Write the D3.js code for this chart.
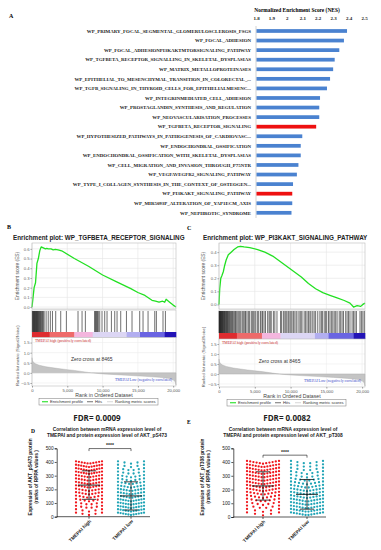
<!DOCTYPE html>
<html>
<head>
<meta charset="utf-8">
<script src="https://cdn.jsdelivr.net/npm/d3@7"></script>
<style>
  body { margin: 0; background: #fff; }
  svg { display: block; }
</style>
</head>
<body>
<svg width="381" height="550"></svg>
<script>
// ---------- Panel A : NES bar chart ----------
const nesLabels = [
  'WP_PRIMARY_FOCAL_SEGMENTAL_GLOMERULOSCLEROSIS_FSGS',
  'WP_FOCAL_ADHESION',
  'WP_FOCAL_ADHESIONPI3KAKTMTORSIGNALING_PATHWAY',
  'WP_TGFBETA_RECEPTOR_SIGNALLING_IN_SKELETAL_DYSPLASIAS',
  'WP_MATRIX_METALLOPROTEINASES',
  'WP_EPITHELIAL_TO_MESENCHYMAL_TRANSITION_IN_COLORECTAL_...',
  'WP_TGFB_SIGNALING_IN_THYROID_CELLS_FOR_EPITHELIALMESENC...',
  'WP_INTEGRINMEDIATED_CELL_ADHESION',
  'WP_PROSTAGLANDIN_SYNTHESIS_AND_REGULATION',
  'WP_NEOVASCULARISATION_PROCESSES',
  'WP_TGFBETA_RECEPTOR_SIGNALING',
  'WP_HYPOTHESIZED_PATHWAYS_IN_PATHOGENESIS_OF_CARDIOVASC...',
  'WP_ENDOCHONDRAL_OSSIFICATION',
  'WP_ENDOCHONDRAL_OSSIFICATION_WITH_SKELETAL_DYSPLASIAS',
  'WP_CELL_MIGRATION_AND_INVASION_THROUGH_P75NTR',
  'WP_VEGFAVEGFR2_SIGNALING_PATHWAY',
  'WP_TYPE_I_COLLAGEN_SYNTHESIS_IN_THE_CONTEXT_OF_OSTEOGEN...',
  'WP_PI3KAKT_SIGNALING_PATHWAY',
  'WP_MIR5093P_ALTERATION_OF_YAP1ECM_AXIS',
  'WP_NEPHROTIC_SYNDROME'
];
const nesValues = [2.39, 2.37, 2.34, 2.31, 2.30, 2.28, 2.26, 2.215, 2.21, 2.21,
                   2.19, 2.10, 2.09, 2.09, 2.075, 2.065, 2.04, 2.035, 2.035, 2.03];
const nesHighlighted = ['WP_TGFBETA_RECEPTOR_SIGNALING', 'WP_PI3KAKT_SIGNALING_PATHWAY'];
const nesTicks = [1.8, 1.9, 2, 2.1, 2.2, 2.3, 2.4, 2.5];

// ---------- Panels B / C : GSEA enrichment plots ----------
const datasetSize = 20400;
const rankTicks = [0, 5000, 10000, 15000, 20000];

const esRanksB = [0, 150, 300, 500, 700, 900, 1100, 1300, 1600, 1900, 2100, 2300, 2700, 3000, 3300, 3700,
                  4200, 6000, 8000, 10000, 12000, 14000, 15000, 16000, 17000, 17500, 18000, 18500, 18800,
                  19000, 19500, 20000, 20400];
const esValuesB = [0, 0.1, 0.2, 0.25, 0.45, 0.5, 0.58, 0.62, 0.61, 0.6, 0.605, 0.6, 0.6, 0.59, 0.595, 0.59,
                   0.58, 0.5, 0.42, 0.33, 0.26, 0.19, 0.15, 0.12, 0.07, 0.06, 0.05, 0.06, 0.05,
                   0.08, 0.05, 0.02, 0.0];
const hitsB = [60, 130, 200, 260, 330, 390, 450, 520, 590, 650, 720, 790, 860, 940, 1020, 1100, 1190,
               1280, 1380, 1480, 1600, 1720, 2000, 2300, 2600, 2900, 3360, 4070, 4870, 6520, 7090, 7560,
               8880, 8950, 9050, 9150, 9280, 9400, 9590, 9920, 10300, 10630, 11250, 11720, 12050, 12570,
               13380, 14170, 15260, 15730, 16440, 17390, 17620, 18560, 18900];

const esRanksC = [0, 100, 250, 400, 600, 800, 1000, 1300, 1700, 2100, 2600, 3000, 3500, 4300, 5400, 6400,
                  7500, 8500, 9500, 10500, 11500, 12500, 13500, 14500, 15500, 16500, 17500, 18300, 18800,
                  19300, 19800, 20100, 20400];
const esValuesC = [0, 0.12, 0.2, 0.22, 0.25, 0.3, 0.34, 0.38, 0.4, 0.42, 0.44, 0.445, 0.44, 0.435, 0.42, 0.4,
                   0.37, 0.33, 0.29, 0.25, 0.21, 0.16, 0.12, 0.09, 0.07, 0.05, 0.03, 0.01, -0.02,
                   -0.01, -0.015, 0.0, 0.01];
const hitsC = [20, 60, 110, 150, 200, 260, 310, 370, 420, 480, 540, 600, 670, 740, 800, 870, 950, 1030,
               1100, 1180, 1260, 1350, 1450, 1550, 1650, 1760, 1880, 2000, 2150, 2300, 2400, 2550, 2750,
               2900, 3050, 3250, 3400, 3600, 3700, 3900, 4100, 4250, 4500, 4650, 4800, 5000, 5150, 5400,
               5550, 5800, 6000, 6100, 6300, 6500, 6800, 7000, 7150, 7300, 7600, 7800, 8100, 8600, 8750,
               9000, 9200, 9350, 9500, 9700, 9900, 10050, 10200, 10400, 10600, 10800, 11050, 11300,
               11450, 11600, 11900, 12100, 12300, 12500, 12700, 12850, 13100, 13300, 13500, 13800,
               14100, 14300, 14450, 14700, 14900, 15050, 15300, 15500, 15700, 15900, 16100, 16300,
               16500, 16800, 17000, 17200, 17400, 17700, 17900, 18100, 18300, 18600, 18800, 19000,
               19200, 19700, 19900, 20100, 20300];

// ranked list metric (signal2noise), same dataset for both plots
const metricRanks = [0, 50, 200, 500, 1000, 2000, 3000, 4000, 5000, 6000, 7000, 8000, 8465, 9000, 10000,
                     12000, 14000, 16000, 18000, 19500, 20000, 20300, 20400];
const metricValues = [0.75, 0.62, 0.52, 0.45, 0.38, 0.3, 0.25, 0.2, 0.16, 0.12, 0.07, 0.02, 0, -0.02, -0.05,
                      -0.09, -0.13, -0.17, -0.22, -0.28, -0.34, -0.45, -0.6];
const metricTicks = [1.5, 1.0, 0.5, 0.0, -0.5];

const colorBarStarts = [0, 2500, 6000, 8600, 13400, 15300, 18800];
const colorBarFills = ['#de2b2f', '#ee6a6a', '#f4b6de', '#dcd6f4', '#b2aef0', '#6a64e2', '#2313b6'];

// ---------- Panels D / E : scatter dot plots ----------
const groups = ['TMEPAI high', 'TMEPAI low'];
const rppaBins = [12.5, 37.5, 62.5, 87.5, 112.5, 137.5, 162.5, 187.5, 212.5, 237.5, 262.5, 287.5,
                  312.5, 337.5, 362.5, 387.5];
const rppaTicks = [0, 100, 200, 300, 400, 500];
const dHighCounts = [5, 5, 6, 6, 7, 8, 9, 9, 10, 10, 10, 10, 11, 11, 11, 10];
const dLowCounts = [11, 11, 11, 11, 11, 10, 10, 10, 9, 8, 7, 7, 6, 6, 5, 5];
const eHighCounts = [5, 5, 6, 7, 8, 9, 10, 11, 11, 12, 12, 12, 12, 12, 12, 11];
const eLowCounts = [12, 12, 12, 12, 12, 11, 11, 11, 10, 9, 8, 7, 7, 6, 6, 6];
const dMeans = [231, 152];
const dSDs = [104, 103];
const eMeans = [226, 165];
const eSDs = [103, 108];

const svg = d3.select('svg');
const serif = 'Liberation Serif, Times New Roman, serif';
const sans = 'Liberation Sans, Arial, sans-serif';

// ================= Panel A =================
svg.append('text').attr('x', 9).attr('y', 18)
  .style('font-family', serif).style('font-weight', 'bold').style('font-size', '6px').text('A');

const xNes = d3.scaleLinear().domain([1.8, 2.5]).range([256, 364]);
const yNes = d3.scaleBand().domain(nesLabels).range([26.2, 217.6]).paddingInner(0.61).paddingOuter(0.305);

const gA = svg.append('g');
gA.append('text')
  .attr('x', 297).attr('y', 12)
  .attr('text-anchor', 'middle')
  .style('font-family', serif).style('font-weight', 'bold').style('font-size', '5.4px')
  .text('Normalized Enrichment Score (NES)');

const axA = gA.append('g')
  .attr('transform', 'translate(0,23)')
  .call(d3.axisTop(xNes).tickValues(nesTicks).tickSize(0).tickFormat(d3.format('~g')));
axA.select('.domain').remove();
axA.selectAll('text')
  .style('font-family', serif).style('font-weight', 'bold').style('font-size', '5px').attr('fill', '#222');

gA.append('line')
  .attr('x1', xNes(1.8)).attr('x2', xNes(1.8))
  .attr('y1', 26).attr('y2', 218)
  .attr('stroke', '#c8c8c8').attr('stroke-width', 0.8);

gA.selectAll('.bar-nes')
  .data(nesLabels)
  .enter().append('rect')
  .attr('class', 'bar-nes')
  .attr('x', xNes(1.8) + 0.5)
  .attr('y', d => yNes(d))
  .attr('width', (d, i) => xNes(nesValues[i]) - xNes(1.8) - 0.5)
  .attr('height', yNes.bandwidth())
  .attr('fill', d => nesHighlighted.includes(d) ? '#ee1010' : '#4a82d0');

gA.selectAll('.lbl-nes')
  .data(nesLabels)
  .enter().append('text')
  .attr('class', 'lbl-nes')
  .attr('x', 251)
  .attr('y', d => yNes(d) + yNes.bandwidth() / 2 + 1.7)
  .attr('text-anchor', 'end')
  .style('font-family', serif).style('font-weight', 'bold').style('font-size', '4.9px')
  .attr('fill', '#222')
  .text(d => d);

// ================= Panels B / C =================
function drawGsea(cfg) {
  const g = svg.append('g');
  const x = d3.scaleLinear().domain([0, datasetSize]).range([cfg.x0, cfg.x1]);
  const yEs = d3.scaleLinear().domain(cfg.esDomain).range([cfg.esBottom, cfg.esTop]);
  const yRk = d3.scaleLinear().domain([-0.65, 1.75]).range([cfg.rankBottom, cfg.barBottom]);
  const midX = (cfg.x0 + cfg.x1) / 2;

  // panel letter + title
  g.append('text').attr('x', cfg.letterX).attr('y', cfg.letterY)
    .style('font-family', serif).style('font-weight', 'bold').style('font-size', '6px').text(cfg.letter);
  g.append('text').attr('x', cfg.titleX).attr('y', 240)
    .style('font-family', sans).style('font-weight', 'bold').style('font-size', '6.3px')
    .attr('fill', '#222')
    .text(cfg.title);

  // ES panel
  g.append('rect').attr('x', cfg.x0).attr('y', cfg.esTop)
    .attr('width', cfg.x1 - cfg.x0).attr('height', cfg.esBottom - cfg.esTop)
    .attr('fill', '#fff');
  g.selectAll('.vgrid').data(rankTicks).enter().append('line')
    .attr('x1', d => x(d)).attr('x2', d => x(d))
    .attr('y1', cfg.esTop).attr('y2', cfg.esBottom)
    .attr('stroke', '#e4e4e4').attr('stroke-width', 0.6);
  g.selectAll('.hgrid').data(cfg.esTicks).enter().append('line')
    .attr('x1', cfg.x0).attr('x2', cfg.x1)
    .attr('y1', d => yEs(d)).attr('y2', d => yEs(d))
    .attr('stroke', '#e4e4e4').attr('stroke-width', 0.6);

  const esAx = g.append('g').attr('transform', `translate(${cfg.x0},0)`)
    .call(d3.axisLeft(yEs).tickValues(cfg.esTicks).tickSize(1.5).tickFormat(d3.format('.1f')));
  esAx.select('.domain').remove();
  esAx.selectAll('line').attr('stroke', '#999');
  esAx.selectAll('text').attr('x', -2.5).style('font-family', sans).style('font-size', '4.2px').attr('fill', '#666');

  const esLine = d3.line().x(d => x(d[0])).y(d => yEs(d[1]));
  g.append('path')
    .datum(cfg.esRanks.map((r, i) => [r, cfg.esValues[i]]))
    .attr('d', esLine)
    .attr('fill', 'none').attr('stroke', '#22e022').attr('stroke-width', 1.3)
    .attr('stroke-linejoin', 'round');

  g.append('rect').attr('x', cfg.x0).attr('y', cfg.esTop)
    .attr('width', cfg.x1 - cfg.x0).attr('height', cfg.esBottom - cfg.esTop)
    .attr('fill', 'none').attr('stroke', '#bbb').attr('stroke-width', 0.6);

  // hits panel
  g.append('rect').attr('x', cfg.x0).attr('y', cfg.esBottom + 1)
    .attr('width', cfg.x1 - cfg.x0).attr('height', cfg.barBottom - cfg.esBottom - 1)
    .attr('fill', '#fff').attr('stroke', '#bbb').attr('stroke-width', 0.6);
  g.selectAll('.hit').data(cfg.hits).enter().append('line')
    .attr('x1', d => x(d)).attr('x2', d => x(d))
    .attr('y1', cfg.esBottom + 2).attr('y2', cfg.hitsBottom)
    .attr('stroke', '#111').attr('stroke-width', 0.6);

  // color bar
  g.selectAll('.cbar').data(colorBarStarts).enter().append('rect')
    .attr('x', d => x(d))
    .attr('y', cfg.hitsBottom)
    .attr('width', (d, i) => x(i < colorBarStarts.length - 1 ? colorBarStarts[i + 1] : datasetSize) - x(d) + 0.3)
    .attr('height', cfg.barBottom - cfg.hitsBottom)
    .attr('fill', (d, i) => colorBarFills[i]);

  // ranked list metric panel
  g.append('rect').attr('x', cfg.x0).attr('y', cfg.barBottom)
    .attr('width', cfg.x1 - cfg.x0).attr('height', cfg.rankBottom - cfg.barBottom)
    .attr('fill', '#fff');
  g.selectAll('.vgrid2').data(rankTicks).enter().append('line')
    .attr('x1', d => x(d)).attr('x2', d => x(d))
    .attr('y1', cfg.barBottom).attr('y2', cfg.rankBottom)
    .attr('stroke', '#ececec').attr('stroke-width', 0.6);
  g.selectAll('.hgrid2').data(metricTicks).enter().append('line')
    .attr('x1', cfg.x0).attr('x2', cfg.x1)
    .attr('y1', d => yRk(d)).attr('y2', d => yRk(d))
    .attr('stroke', '#ececec').attr('stroke-width', 0.6);

  const area = d3.area().x(d => x(d[0])).y0(yRk(0)).y1(d => yRk(d[1]));
  g.append('path')
    .datum(metricRanks.map((r, i) => [r, metricValues[i]]))
    .attr('d', area)
    .attr('fill', '#c4c4c4').attr('stroke', '#aaa').attr('stroke-width', 0.4);

  const rkAx = g.append('g').attr('transform', `translate(${cfg.x0},0)`)
    .call(d3.axisLeft(yRk).tickValues(metricTicks).tickSize(1.5).tickFormat(d3.format('.1f')));
  rkAx.select('.domain').remove();
  rkAx.selectAll('line').attr('stroke', '#999');
  rkAx.selectAll('text').attr('x', -2.5).style('font-family', sans).style('font-size', '4.2px').attr('fill', '#666');

  g.append('rect').attr('x', cfg.x0).attr('y', cfg.barBottom)
    .attr('width', cfg.x1 - cfg.x0).attr('height', cfg.rankBottom - cfg.barBottom)
    .attr('fill', 'none').attr('stroke', '#bbb').attr('stroke-width', 0.6);

  g.append('text').attr('x', cfg.x0 + 3).attr('y', cfg.barBottom + 4.5)
    .style('font-family', serif).style('font-size', '3.8px').attr('fill', '#c62828')
    .text('TMEPAI high (positively correlated)');
  g.append('text').attr('x', x(8465)).attr('y', cfg.barBottom + 23.5)
    .attr('text-anchor', 'middle')
    .style('font-family', sans).style('font-size', '5px').attr('fill', '#333')
    .text('Zero cross at 8465');
  g.append('text').attr('x', cfg.x1 - 4).attr('y', cfg.rankBottom - 5)
    .attr('text-anchor', 'end')
    .style('font-family', serif).style('font-size', '3.8px').attr('fill', '#3949c8')
    .text('TMEPAI Low  (negatively correlated)');

  // x axis
  const xAx = g.append('g').attr('transform', `translate(0,${cfg.rankBottom})`)
    .call(d3.axisBottom(x).tickValues(rankTicks).tickSize(1.5).tickFormat(d3.format(',')));
  xAx.select('.domain').remove();
  xAx.selectAll('line').attr('stroke', '#999');
  xAx.selectAll('text').attr('dy', 0).attr('y', 5.5)
    .style('font-family', sans).style('font-size', '4.2px').attr('fill', '#555');
  g.append('text').attr('x', midX).attr('y', cfg.rankBottom + 11)
    .attr('text-anchor', 'middle')
    .style('font-family', sans).style('font-size', '5.2px').attr('fill', '#444')
    .text('Rank in Ordered Dataset');

  // rotated y titles
  g.append('text')
    .attr('transform', `translate(${cfg.yTitleX},${(cfg.esTop + cfg.esBottom) / 2}) rotate(-90)`)
    .attr('text-anchor', 'middle')
    .style('font-family', sans).style('font-size', '4.8px').attr('fill', '#555')
    .text('Enrichment score (ES)');
  g.append('text')
    .attr('transform', `translate(${cfg.yTitleX},${(cfg.barBottom + cfg.rankBottom) / 2 - 6}) rotate(-90)`)
    .attr('text-anchor', 'middle')
    .style('font-family', sans).style('font-size', '4.1px').attr('fill', '#555')
    .text('Ranked list metric (Signal2Noise)');

  // legend
  const lg = g.append('g').attr('transform', `translate(${cfg.legendX},${cfg.rankBottom + 12.5})`);
  lg.append('rect').attr('width', 119).attr('height', 6.5)
    .attr('fill', '#fff').attr('stroke', '#777').attr('stroke-width', 0.5);
  const legendItems = [
    { label: 'Enrichment profile', color: '#22e022', w: 1.1, dx: 3 },
    { label: 'Hits', color: '#111', w: 0.6, dx: 48 },
    { label: 'Ranking metric scores', color: '#bbb', w: 0.6, dx: 68 }
  ];
  legendItems.forEach(it => {
    lg.append('line').attr('x1', it.dx).attr('x2', it.dx + 6).attr('y1', 3.25).attr('y2', 3.25)
      .attr('stroke', it.color).attr('stroke-width', it.w);
    lg.append('text').attr('x', it.dx + 8).attr('y', 4.7)
      .style('font-family', sans).style('font-size', '4.1px').attr('fill', '#333').text(it.label);
  });

  // FDR
  g.append('text').attr('x', cfg.fdrX).attr('y', 420.5)
    .attr('text-anchor', 'middle')
    .style('font-family', 'Open Sans, Liberation Sans, sans-serif').style('font-weight', 'bold')
    .style('font-size', '8px').attr('fill', '#222')
    .text(cfg.fdr);
}

drawGsea({
  letter: 'B', letterX: 7, letterY: 229,
  title: 'Enrichment plot: WP_TGFBETA_RECEPTOR_SIGNALING', titleX: 13,
  x0: 32, x1: 176, esTop: 243, esBottom: 309, hitsBottom: 332, barBottom: 337.5, rankBottom: 386,
  esDomain: [-0.02, 0.66], esTicks: [0, 0.1, 0.2, 0.3, 0.4, 0.5, 0.6],
  esRanks: esRanksB, esValues: esValuesB, hits: hitsB,
  yTitleX: 19, legendX: 39, fdr: 'FDR= 0.0009', fdrX: 97
});
drawGsea({
  letter: 'C', letterX: 187, letterY: 230,
  title: 'Enrichment plot: WP_PI3KAKT_SIGNALING_PATHWAY', titleX: 203,
  x0: 219, x1: 365, esTop: 243, esBottom: 309, hitsBottom: 333, barBottom: 339, rankBottom: 387,
  esDomain: [-0.035, 0.47], esTicks: [0, 0.1, 0.2, 0.3, 0.4],
  esRanks: esRanksC, esValues: esValuesC, hits: hitsC,
  yTitleX: 205, legendX: 227, fdr: 'FDR= 0.0082', fdrX: 287
});

// ================= Panels D / E =================
function drawDots(cfg) {
  const g = svg.append('g');
  const y = d3.scaleLinear().domain([0, 500]).range([cfg.y0, cfg.y500]);
  const x = d3.scalePoint().domain(groups).range(cfg.catX);
  const colors = ['#f0161c', '#20a4b6'];

  g.append('text').attr('x', cfg.letterX).attr('y', cfg.letterY)
    .style('font-family', serif).style('font-weight', 'bold').style('font-size', '5.5px').text(cfg.letter);

  cfg.titleLines.forEach((t, i) => {
    g.append('text').attr('x', cfg.titleCX).attr('y', 430.5 + i * 6.5)
      .attr('text-anchor', 'middle')
      .style('font-family', sans).style('font-weight', 'bold').style('font-size', '4.9px')
      .attr('fill', '#222').text(t);
  });

  // y axis
  const yAx = g.append('g').attr('transform', `translate(${cfg.axisX},0)`)
    .call(d3.axisLeft(y).tickValues(rppaTicks).tickSize(2));
  yAx.select('.domain').attr('stroke', '#111').attr('stroke-width', 0.7);
  yAx.selectAll('line').attr('stroke', '#111').attr('stroke-width', 0.7);
  yAx.selectAll('text').attr('x', -3).style('font-family', sans).style('font-size', '4.8px').attr('fill', '#222');

  // x axis
  g.append('line').attr('x1', cfg.axisX).attr('x2', cfg.axisEnd)
    .attr('y1', cfg.y0).attr('y2', cfg.y0).attr('stroke', '#111').attr('stroke-width', 0.7);
  g.selectAll('.xtick').data(groups).enter().append('line')
    .attr('x1', d => x(d)).attr('x2', d => x(d))
    .attr('y1', cfg.y0).attr('y2', cfg.y0 + 2)
    .attr('stroke', '#111').attr('stroke-width', 0.7);
  g.selectAll('.xlbl').data(groups).enter().append('text')
    .attr('transform', d => `translate(${x(d) + 2.5},${cfg.y0 + 5}) rotate(-45)`)
    .attr('text-anchor', 'end')
    .style('font-family', sans).style('font-weight', 'bold').style('font-size', '4.8px')
    .attr('fill', '#222').text(d => d);

  // y title
  cfg.yTitle.forEach((t, i) => {
    g.append('text')
      .attr('transform', `translate(${cfg.yTitleX + i * 6},${cfg.yTitleY}) rotate(-90)`)
      .attr('text-anchor', 'middle')
      .style('font-family', sans).style('font-weight', 'bold').style('font-size', '4.8px')
      .attr('fill', '#222').text(t);
  });

  // dots: rows per rank bin, spread across a fixed width, chevron lifted at edges
  groups.forEach((grp, gi) => {
    const counts = cfg.counts[gi];
    const pts = [];
    rppaBins.forEach((v, bi) => {
      const k = counts[bi];
      const step = k > 1 ? cfg.rowWidth / (k - 1) : 0;
      for (let j = 0; j < k; j++) {
        const dx = (j - (k - 1) / 2) * step;
        pts.push({ v: v, dx: dx });
      }
    });
    g.selectAll(`.dot-${gi}`).data(pts).enter().append('circle')
      .attr('cx', d => x(grp) + d.dx)
      .attr('cy', d => y(d.v) - Math.abs(d.dx) * 0.18)
      .attr('r', 1.15)
      .attr('fill', colors[gi]);

    // mean +/- SD
    const m = cfg.means[gi], s = cfg.sds[gi];
    const cx = x(grp);
    g.append('line').attr('x1', cx).attr('x2', cx).attr('y1', y(m - s)).attr('y2', y(m + s))
      .attr('stroke', '#111').attr('stroke-width', 0.8);
    g.append('line').attr('x1', cx - 11).attr('x2', cx + 11).attr('y1', y(m)).attr('y2', y(m))
      .attr('stroke', '#111').attr('stroke-width', 0.9);
    [m - s, m + s].forEach(val => {
      g.append('line').attr('x1', cx - 7).attr('x2', cx + 7).attr('y1', y(val)).attr('y2', y(val))
        .attr('stroke', '#111').attr('stroke-width', 0.8);
    });
  });

  // significance bracket
  const by = y(cfg.bracketAt);
  g.append('path')
    .attr('d', `M${x(groups[0])},${by + 2.5}V${by}H${x(groups[1])}V${by + 2.5}`)
    .attr('fill', 'none').attr('stroke', '#111').attr('stroke-width', 0.6);
  g.append('text').attr('x', (x(groups[0]) + x(groups[1])) / 2).attr('y', by - 1.2)
    .attr('text-anchor', 'middle')
    .style('font-family', sans).style('font-weight', 'bold').style('font-size', '5px')
    .attr('fill', '#222').text('****');
}

drawDots({
  letter: 'D', letterX: 31, letterY: 433,
  titleLines: ['Correlation between mRNA expression level of', 'TMEPAI and protein expression level of AKT_pS473'],
  titleCX: 107,
  axisX: 56.7, axisEnd: 150, y0: 516.7, y500: 448.3, catX: [89, 131],
  yTitle: ['Expression of AKT_pS473 protein', '(ranks of RPPA values )'], yTitleX: 32, yTitleY: 477,
  counts: [dHighCounts, dLowCounts], means: dMeans, sds: dSDs, rowWidth: 26, bracketAt: 498
});
drawDots({
  letter: 'E', letterX: 187, letterY: 424,
  titleLines: ['Correlation between mRNA expression level of', 'TMEPAI and protein expression level of AKT_pT308'],
  titleCX: 283,
  axisX: 233.3, axisEnd: 326, y0: 517, y500: 448.3, catX: [263, 307],
  yTitle: ['Expression of AKT_pT308 protein', '(ranks of RPPA values )'], yTitleX: 204, yTitleY: 477,
  counts: [eHighCounts, eLowCounts], means: eMeans, sds: eSDs, rowWidth: 32, bracketAt: 450
});
</script>
</body>
</html>
